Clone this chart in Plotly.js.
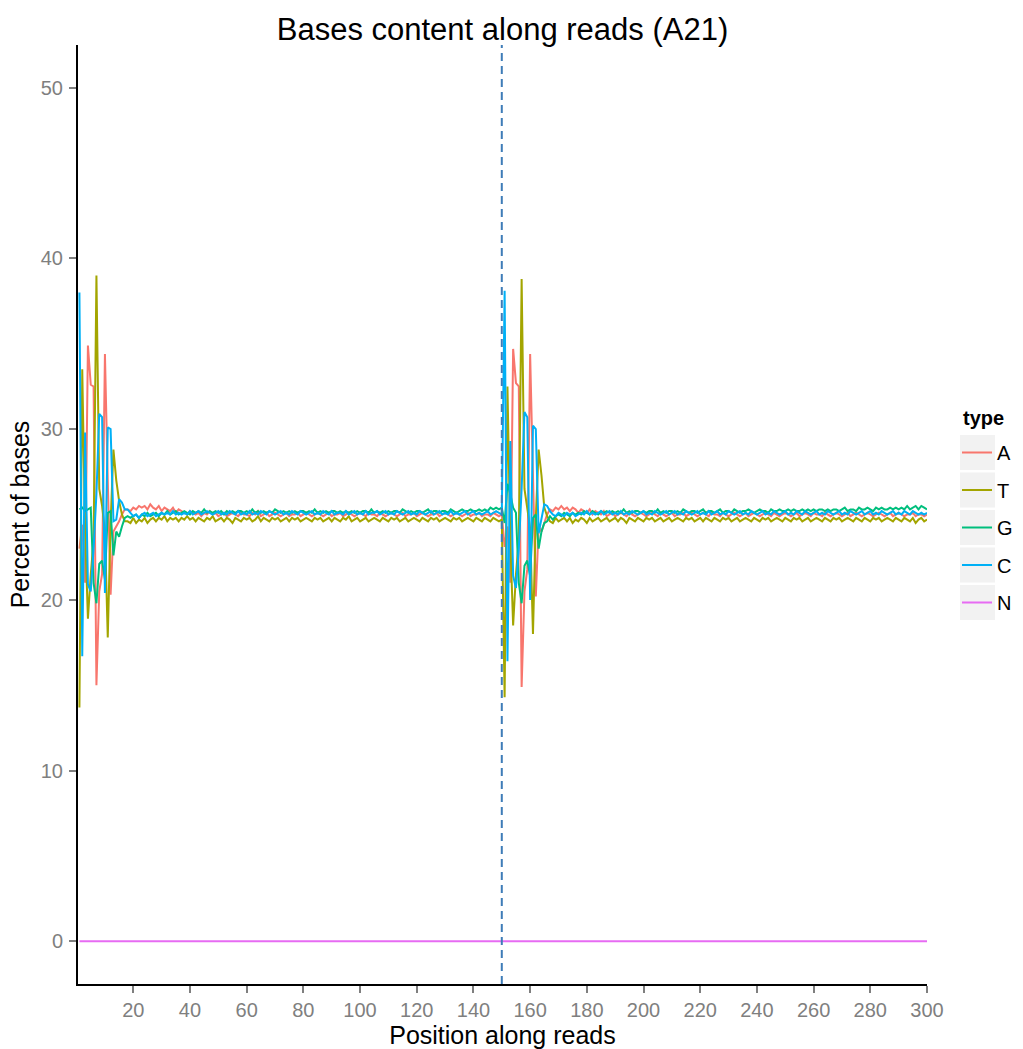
<!DOCTYPE html>
<html>
<head>
<meta charset="utf-8">
<script src="https://cdn.plot.ly/plotly-3.0.1.min.js"></script>
<style>html,body{margin:0;padding:0;background:#fff;}#chart{width:1023px;height:1049px;}</style>
</head>
<body>
<div id="chart"></div>
<script>
// ---------- data ----------
const readLength = 150;
const positions = Array.from({length: 300}, (_, i) => i + 1);
const baseTypes = ["A", "T", "G", "C", "N"];
const baseColors = ["#F8766D", "#A3A500", "#00BF7D", "#00B0F6", "#E76BF3"];
const xTickVals = [20, 40, 60, 80, 100, 120, 140, 160, 180, 200, 220, 240, 260, 280, 300];
const yTickVals = [0, 10, 20, 30, 40, 50];

const pctA = [
  23.0, 24.4, 21.0, 34.9, 32.6, 32.5, 15.0, 20.5, 21.5, 34.4, 27.0, 20.3, 24.0, 24.3, 24.6, 25.0, 25.3,
  25.3, 25.2, 25.4, 25.3, 25.5, 25.4, 25.5, 25.3, 25.6, 25.4,
  25.3, 25.5, 25.2, 25.4, 25.3, 25.2, 25.4, 25.1, 25.3, 25.2,
  25.1, 25.0, 25.2, 25.1, 25.0, 25.1, 24.9, 25.1, 25.0, 25.2,
  25.0, 25.1, 24.9, 25.0, 25.1, 24.9, 25.0, 25.1, 25.0, 24.9,
  25.1, 25.0, 25.0, 24.9, 25.1, 25.0, 25.2, 24.9, 25.0, 25.1,
  24.9, 25.0, 25.1, 25.0, 24.9, 25.0, 25.1, 24.9, 25.0, 25.0,
  25.1, 24.9, 25.0, 25.1, 25.0, 24.9, 25.0, 25.1, 25.0, 24.9,
  25.0, 25.1, 24.9, 25.0, 25.0, 25.1, 24.9, 25.0, 25.1, 25.0,
  24.9, 25.0, 25.1, 25.0, 24.9, 25.1, 25.0, 25.0, 24.9, 25.1,
  25.0, 24.9, 25.0, 25.1, 25.0, 24.9, 25.0, 25.1, 24.9, 25.0,
  25.0, 25.1, 24.9, 25.0, 25.1, 25.0, 24.9, 25.0, 25.0, 25.1,
  24.9, 25.0, 25.1, 25.0, 24.9, 25.0, 25.1, 25.0, 24.9, 25.0,
  25.1, 24.9, 25.0, 25.0, 25.1, 24.9, 25.0, 25.0, 24.9, 25.1,
  25.0, 24.9, 25.0,
  23.1, 24.3, 21.0, 34.7, 32.7, 32.5, 14.9, 20.5, 21.8, 34.4, 27.0, 20.2, 24.3, 24.0, 24.5, 25.0, 25.3,
  25.2, 25.4, 25.3, 25.5, 25.3, 25.4, 25.2, 25.4, 25.3, 25.1,
  25.3, 25.2, 25.1, 25.3, 25.0, 25.2, 25.1, 25.0, 25.2, 24.9,
  25.0, 25.1, 24.9, 25.0, 25.1, 25.0, 24.9, 25.1, 25.0, 24.9,
  25.0, 25.1, 25.0, 24.9, 25.0, 25.1, 25.0, 24.9, 25.1, 25.0,
  24.9, 25.0, 25.1, 24.9, 25.0, 25.0, 25.1, 24.9, 25.0, 25.1,
  25.0, 24.9, 25.0, 25.1, 25.0, 24.9, 25.1, 25.0, 25.0, 24.9,
  25.1, 25.0, 24.9, 25.0, 25.1, 25.0, 24.9, 25.0, 25.1, 24.9,
  25.0, 25.1, 25.0, 24.9, 25.0, 25.1, 25.0, 24.9, 25.1, 25.0,
  24.9, 25.0, 25.1, 25.0, 24.9, 25.0, 25.1, 24.9, 25.0, 25.1,
  25.0, 24.9, 25.1, 25.0, 25.0, 24.9, 25.1, 25.0, 24.9, 25.0,
  25.1, 25.0, 24.9, 25.0, 25.1, 24.9, 25.0, 25.1, 25.0, 24.9,
  25.0, 25.1, 25.0, 24.9, 25.0, 25.1, 25.0, 24.9, 25.0, 25.1,
  24.9, 25.0, 25.1, 25.0, 24.9, 25.0, 25.0, 25.1, 24.9, 25.0,
  25.0, 24.9, 25.0
];

const pctT = [
  13.7, 33.5, 24.0, 18.9, 21.5, 23.5, 39.0, 26.5, 25.5, 24.0, 17.8, 24.5, 28.8, 27.0, 25.8, 25.0, 24.6,
  24.6, 24.5, 24.8, 24.5, 24.7, 24.6, 24.8, 24.5, 24.7, 24.8,
  24.6, 24.8, 24.7, 24.9, 24.6, 24.8, 24.7, 24.8, 24.6, 24.8,
  24.7, 24.9, 24.7, 24.8, 24.6, 24.8, 24.7, 24.6, 24.8, 24.7,
  24.9, 24.6, 24.7, 24.8, 24.6, 24.8, 24.7, 24.5, 24.8, 24.7,
  24.6, 24.8, 24.7, 24.8, 24.6, 24.7, 24.9, 24.6, 24.8, 24.7,
  24.6, 24.8, 24.7, 24.8, 24.6, 24.7, 24.8, 24.6, 24.8, 24.7,
  24.8, 24.6, 24.7, 24.8, 24.7, 24.6, 24.8, 24.7, 24.8, 24.6,
  24.7, 24.8, 24.6, 24.8, 24.7, 24.6, 24.8, 24.7, 24.9, 24.6,
  24.7, 24.8, 24.6, 24.7, 24.8, 24.6, 24.7, 24.8, 24.7, 24.6,
  24.8, 24.7, 24.6, 24.8, 24.7, 24.8, 24.6, 24.7, 24.8, 24.6,
  24.7, 24.8, 24.7, 24.6, 24.8, 24.7, 24.6, 24.8, 24.7, 24.8,
  24.6, 24.7, 24.8, 24.7, 24.6, 24.8, 24.7, 24.8, 24.6, 24.7,
  24.8, 24.7, 24.6, 24.8, 24.7, 24.6, 24.8, 24.7, 24.6, 24.8,
  24.7, 24.6, 24.7,
  14.3, 32.5, 23.5, 18.5, 21.5, 23.5, 38.8, 26.5, 25.2, 24.2, 18.0, 24.8, 28.8, 27.3, 25.4, 24.9, 24.6,
  24.5, 24.8, 24.6, 24.7, 24.8, 24.6, 24.8, 24.5, 24.7, 24.6,
  24.8, 24.7, 24.5, 24.8, 24.6, 24.7, 24.8, 24.6, 24.7, 24.8,
  24.6, 24.7, 24.8, 24.6, 24.8, 24.7, 24.5, 24.8, 24.7, 24.6,
  24.8, 24.7, 24.6, 24.8, 24.7, 24.8, 24.6, 24.7, 24.8, 24.6,
  24.7, 24.8, 24.6, 24.7, 24.8, 24.7, 24.6, 24.8, 24.7, 24.8,
  24.6, 24.7, 24.8, 24.6, 24.8, 24.7, 24.6, 24.8, 24.7, 24.6,
  24.8, 24.7, 24.8, 24.6, 24.7, 24.8, 24.6, 24.7, 24.8, 24.7,
  24.6, 24.8, 24.7, 24.6, 24.8, 24.7, 24.8, 24.6, 24.7, 24.8,
  24.7, 24.6, 24.8, 24.7, 24.6, 24.8, 24.7, 24.8, 24.6, 24.7,
  24.8, 24.6, 24.7, 24.8, 24.7, 24.6, 24.8, 24.7, 24.6, 24.8,
  24.7, 24.8, 24.6, 24.7, 24.8, 24.7, 24.6, 24.8, 24.7, 24.6,
  24.8, 24.7, 24.6, 24.8, 24.7, 24.8, 24.6, 24.7, 24.8, 24.7,
  24.6, 24.8, 24.7, 24.6, 24.8, 24.7, 24.6, 24.8, 24.5, 24.7,
  24.8, 24.6, 24.7
];

const pctG = [
  25.3, 25.4, 25.2, 25.3, 25.4, 21.0, 19.8, 22.1, 22.3, 21.2, 25.1, 25.2, 22.6, 24.0, 23.7, 24.3, 24.8,
  24.9, 24.8, 24.9, 25.0, 24.8, 25.0, 24.9, 25.1, 24.9, 25.0,
  25.1, 24.9, 25.1, 25.0, 25.2, 25.0, 25.1, 25.2, 25.0, 25.1,
  25.2, 25.1, 25.0, 25.2, 25.1, 25.2, 25.1, 25.3, 25.1, 25.2,
  25.1, 25.2, 25.1, 25.2, 25.0, 25.2, 25.1, 25.2, 25.1, 25.2,
  25.2, 25.1, 25.2, 25.1, 25.3, 25.1, 25.2, 25.1, 25.2, 25.1,
  25.2, 25.1, 25.3, 25.2, 25.1, 25.2, 25.1, 25.2, 25.1, 25.2,
  25.1, 25.2, 25.2, 25.1, 25.2, 25.1, 25.3, 25.1, 25.2, 25.1,
  25.2, 25.1, 25.2, 25.2, 25.1, 25.2, 25.1, 25.2, 25.1, 25.2,
  25.1, 25.2, 25.1, 25.2, 25.2, 25.1, 25.3, 25.1, 25.2, 25.1,
  25.2, 25.1, 25.2, 25.1, 25.2, 25.2, 25.1, 25.3, 25.2, 25.1,
  25.2, 25.1, 25.2, 25.2, 25.1, 25.2, 25.3, 25.1, 25.2, 25.2,
  25.1, 25.2, 25.2, 25.1, 25.3, 25.2, 25.1, 25.2, 25.3, 25.2,
  25.2, 25.3, 25.2, 25.2, 25.3, 25.2, 25.3, 25.2, 25.4, 25.3,
  25.4, 25.3, 25.4,
  24.5, 26.8, 26.2, 25.4, 25.1, 21.0, 19.8, 22.0, 22.3, 21.4, 24.8, 25.0, 23.0, 24.0, 24.5, 24.6, 24.9,
  24.7, 24.9, 25.0, 24.9, 25.1, 25.0, 24.9, 25.1, 25.0, 25.1,
  25.0, 25.2, 25.1, 25.0, 25.2, 25.1, 25.0, 25.2, 25.1, 25.2,
  25.1, 25.2, 25.1, 25.2, 25.1, 25.3, 25.1, 25.2, 25.1, 25.2,
  25.2, 25.1, 25.2, 25.1, 25.2, 25.2, 25.1, 25.3, 25.1, 25.2,
  25.1, 25.2, 25.2, 25.1, 25.2, 25.1, 25.3, 25.2, 25.1, 25.2,
  25.2, 25.1, 25.2, 25.3, 25.1, 25.2, 25.2, 25.1, 25.2, 25.3,
  25.1, 25.2, 25.2, 25.1, 25.3, 25.2, 25.1, 25.2, 25.2, 25.3,
  25.2, 25.1, 25.2, 25.3, 25.2, 25.2, 25.1, 25.3, 25.2, 25.2,
  25.3, 25.2, 25.2, 25.3, 25.2, 25.3, 25.2, 25.2, 25.3, 25.2,
  25.3, 25.2, 25.3, 25.2, 25.3, 25.3, 25.2, 25.3, 25.2, 25.3,
  25.3, 25.2, 25.3, 25.4, 25.2, 25.3, 25.3, 25.2, 25.4, 25.3,
  25.3, 25.4, 25.3, 25.2, 25.4, 25.3, 25.4, 25.3, 25.3, 25.4,
  25.3, 25.4, 25.3, 25.4, 25.3, 25.5, 25.3, 25.4, 25.5, 25.3,
  25.5, 25.4, 25.3
];

const pctC = [
  38.0, 16.7, 29.8, 20.9, 20.5, 23.0, 26.2, 30.9, 30.7, 20.4, 30.1, 30.0, 24.6, 24.7, 25.9, 25.7, 25.3,
  25.3, 25.1, 24.9, 25.0, 24.8, 25.0, 25.1, 24.9, 25.0, 25.1,
  24.9, 25.0, 25.1, 25.0, 25.1, 25.0, 25.2, 25.0, 25.1, 25.0,
  25.1, 25.0, 25.2, 25.0, 25.1, 25.2, 25.0, 25.1, 25.2, 25.1,
  25.0, 25.1, 25.2, 25.0, 25.1, 25.0, 25.2, 25.1, 25.0, 25.2,
  25.0, 25.1, 25.0, 25.2, 25.0, 25.1, 25.0, 25.2, 25.1, 25.0,
  25.2, 25.1, 25.0, 25.1, 25.2, 25.0, 25.1, 25.0, 25.2, 25.1,
  25.0, 25.2, 25.1, 25.0, 25.1, 25.2, 25.0, 25.1, 25.0, 25.2,
  25.1, 25.0, 25.2, 25.0, 25.1, 25.1, 25.0, 25.2, 25.0, 25.1,
  25.2, 25.0, 25.1, 25.0, 25.2, 25.0, 25.1, 25.1, 25.2, 25.0,
  25.1, 25.2, 25.0, 25.1, 25.0, 25.2, 25.1, 25.0, 25.1, 25.2,
  25.0, 25.1, 25.0, 25.2, 25.1, 25.0, 25.1, 25.2, 25.0, 25.1,
  25.2, 25.0, 25.1, 25.0, 25.2, 25.0, 25.1, 25.0, 25.1, 25.2,
  25.0, 25.1, 25.2, 25.0, 25.1, 25.0, 25.1, 25.2, 25.0, 25.1,
  25.2, 25.1, 25.0,
  38.1, 16.4, 29.3, 21.4, 20.7, 23.0, 26.5, 31.0, 30.7, 20.0, 30.2, 30.0, 23.9, 24.7, 25.6, 25.5, 25.2,
  25.0, 24.9, 25.1, 25.0, 24.9, 25.1, 25.0, 25.1, 24.9, 25.0,
  25.1, 25.0, 25.2, 25.0, 25.1, 25.0, 25.1, 25.2, 25.0, 25.1,
  25.2, 25.0, 25.1, 25.0, 25.2, 25.0, 25.1, 25.0, 25.2, 25.1,
  25.0, 25.1, 25.2, 25.0, 25.1, 25.0, 25.2, 25.1, 25.0, 25.1,
  25.2, 25.0, 25.1, 25.2, 25.0, 25.1, 25.0, 25.2, 25.1, 25.0,
  25.1, 25.2, 25.0, 25.1, 25.0, 25.2, 25.0, 25.1, 25.2, 25.0,
  25.1, 25.0, 25.2, 25.1, 25.0, 25.1, 25.2, 25.0, 25.1, 25.0,
  25.2, 25.1, 25.0, 25.1, 25.2, 25.0, 25.1, 25.0, 25.2, 25.1,
  25.0, 25.1, 25.2, 25.0, 25.1, 25.0, 25.2, 25.1, 25.0, 25.2,
  25.1, 25.0, 25.1, 25.2, 25.0, 25.1, 25.0, 25.2, 25.1, 25.0,
  25.1, 25.2, 25.0, 25.1, 25.0, 25.2, 25.1, 25.0, 25.1, 25.2,
  25.0, 25.1, 25.2, 25.0, 25.1, 25.0, 25.2, 25.1, 25.0, 25.1,
  25.2, 25.0, 25.1, 25.0, 25.2, 25.1, 25.0, 25.2, 25.1, 25.0,
  25.1, 25.0, 25.1
];

const pctN = [
  0,0,0,0,0,0,0,0,0,0, 0,0,0,0,0,0,0,0,0,0, 0,0,0,0,0,0,0,0,0,0,
  0,0,0,0,0,0,0,0,0,0, 0,0,0,0,0,0,0,0,0,0, 0,0,0,0,0,0,0,0,0,0,
  0,0,0,0,0,0,0,0,0,0, 0,0,0,0,0,0,0,0,0,0, 0,0,0,0,0,0,0,0,0,0,
  0,0,0,0,0,0,0,0,0,0, 0,0,0,0,0,0,0,0,0,0, 0,0,0,0,0,0,0,0,0,0,
  0,0,0,0,0,0,0,0,0,0, 0,0,0,0,0,0,0,0,0,0, 0,0,0,0,0,0,0,0,0,0,
  0,0,0,0,0,0,0,0,0,0, 0,0,0,0,0,0,0,0,0,0, 0,0,0,0,0,0,0,0,0,0,
  0,0,0,0,0,0,0,0,0,0, 0,0,0,0,0,0,0,0,0,0, 0,0,0,0,0,0,0,0,0,0,
  0,0,0,0,0,0,0,0,0,0, 0,0,0,0,0,0,0,0,0,0, 0,0,0,0,0,0,0,0,0,0,
  0,0,0,0,0,0,0,0,0,0, 0,0,0,0,0,0,0,0,0,0, 0,0,0,0,0,0,0,0,0,0,
  0,0,0,0,0,0,0,0,0,0, 0,0,0,0,0,0,0,0,0,0, 0,0,0,0,0,0,0,0,0,0
];

// ---------- chart ----------
const FONT = "Liberation Sans, Arial, Helvetica, sans-serif";
const series = [pctA, pctT, pctG, pctC, pctN];
const W = 1023, H = 1049;
const M = {l: 78, r: 96, t: 45, b: 65};
const plotW = W - M.l - M.r, plotH = H - M.t - M.b;
const px2paperX = px => (px - M.l) / plotW;
const px2paperY = py => (H - M.b - py) / plotH;

const traces = baseTypes.map((name, i) => ({
  type: "scatter",
  mode: "lines",
  name: name,
  x: positions,
  y: series[i],
  line: {color: baseColors[i], width: 2},
  legendgroup: name,
  hoverinfo: "x+y+name"
}));

// grey legend key backgrounds (ggplot style)
const keyRows = [[435, 470], [472.5, 507.5], [510, 545], [547.5, 582.5], [585, 620]];
const shapes = keyRows.map(([t, b]) => ({
  type: "rect", xref: "paper", yref: "paper", layer: "below",
  x0: px2paperX(960), x1: px2paperX(995), y0: px2paperY(b), y1: px2paperY(t),
  fillcolor: "#F2F2F2", line: {width: 0}
}));
shapes.push({
  type: "line", xref: "x", yref: "paper",
  x0: readLength, x1: readLength, y0: 0, y1: 1,
  line: {color: "#3E7CB8", width: 2, dash: "8px,5px"}
});

const layout = {
  width: W, height: H,
  margin: M,
  paper_bgcolor: "#FFFFFF",
  plot_bgcolor: "#FFFFFF",
  font: {family: FONT, color: "#000000"},
  title: {
    text: "Bases content along reads (A21)",
    font: {family: FONT, size: 31, color: "#000000"},
    x: 0.5, xref: "paper", xanchor: "center",
    y: 1 - 29 / H, yref: "container", yanchor: "middle"
  },
  xaxis: {
    range: [0.5, 300],
    tickvals: xTickVals,
    ticktext: xTickVals.map(String),
    ticks: "outside", ticklen: 7, tickwidth: 2, tickcolor: "#7F7F7F",
    tickfont: {family: FONT, size: 20, color: "#7F7F7F"},
    showline: true, linecolor: "#000000", linewidth: 2,
    showgrid: false, zeroline: false,
    automargin: false,
    title: {text: "Position along reads", font: {family: FONT, size: 25, color: "#000000"}, standoff: 4}
  },
  yaxis: {
    range: [-2.5, 52.5],
    tickvals: yTickVals,
    ticktext: yTickVals.map(String),
    ticks: "outside", ticklen: 7, tickwidth: 2, tickcolor: "#7F7F7F",
    tickfont: {family: FONT, size: 20, color: "#7F7F7F"},
    ticklabelstandoff: 2,
    showline: true, linecolor: "#000000", linewidth: 2,
    showgrid: false, zeroline: false,
    automargin: false,
    title: {text: "Percent of bases", font: {family: FONT, size: 25, color: "#000000"}, standoff: 4}
  },
  showlegend: true,
  legend: {
    xref: "container", yref: "container",
    x: 957 / W, y: 1 - 433 / H,
    xanchor: "left", yanchor: "top",
    bgcolor: "rgba(0,0,0,0)",
    borderwidth: 0,
    font: {family: FONT, size: 20, color: "#000000"},
    traceorder: "grouped",
    tracegroupgap: 8.5
  },
  annotations: [{
    text: "<b>type</b>",
    xref: "paper", yref: "paper",
    x: px2paperX(961), y: px2paperY(418),
    xanchor: "left", yanchor: "middle",
    showarrow: false,
    font: {family: FONT, size: 20, color: "#000000"}
  }],
  shapes: shapes
};

Plotly.newPlot("chart", traces, layout, {displayModeBar: false, staticPlot: true});
</script>
</body>
</html>
